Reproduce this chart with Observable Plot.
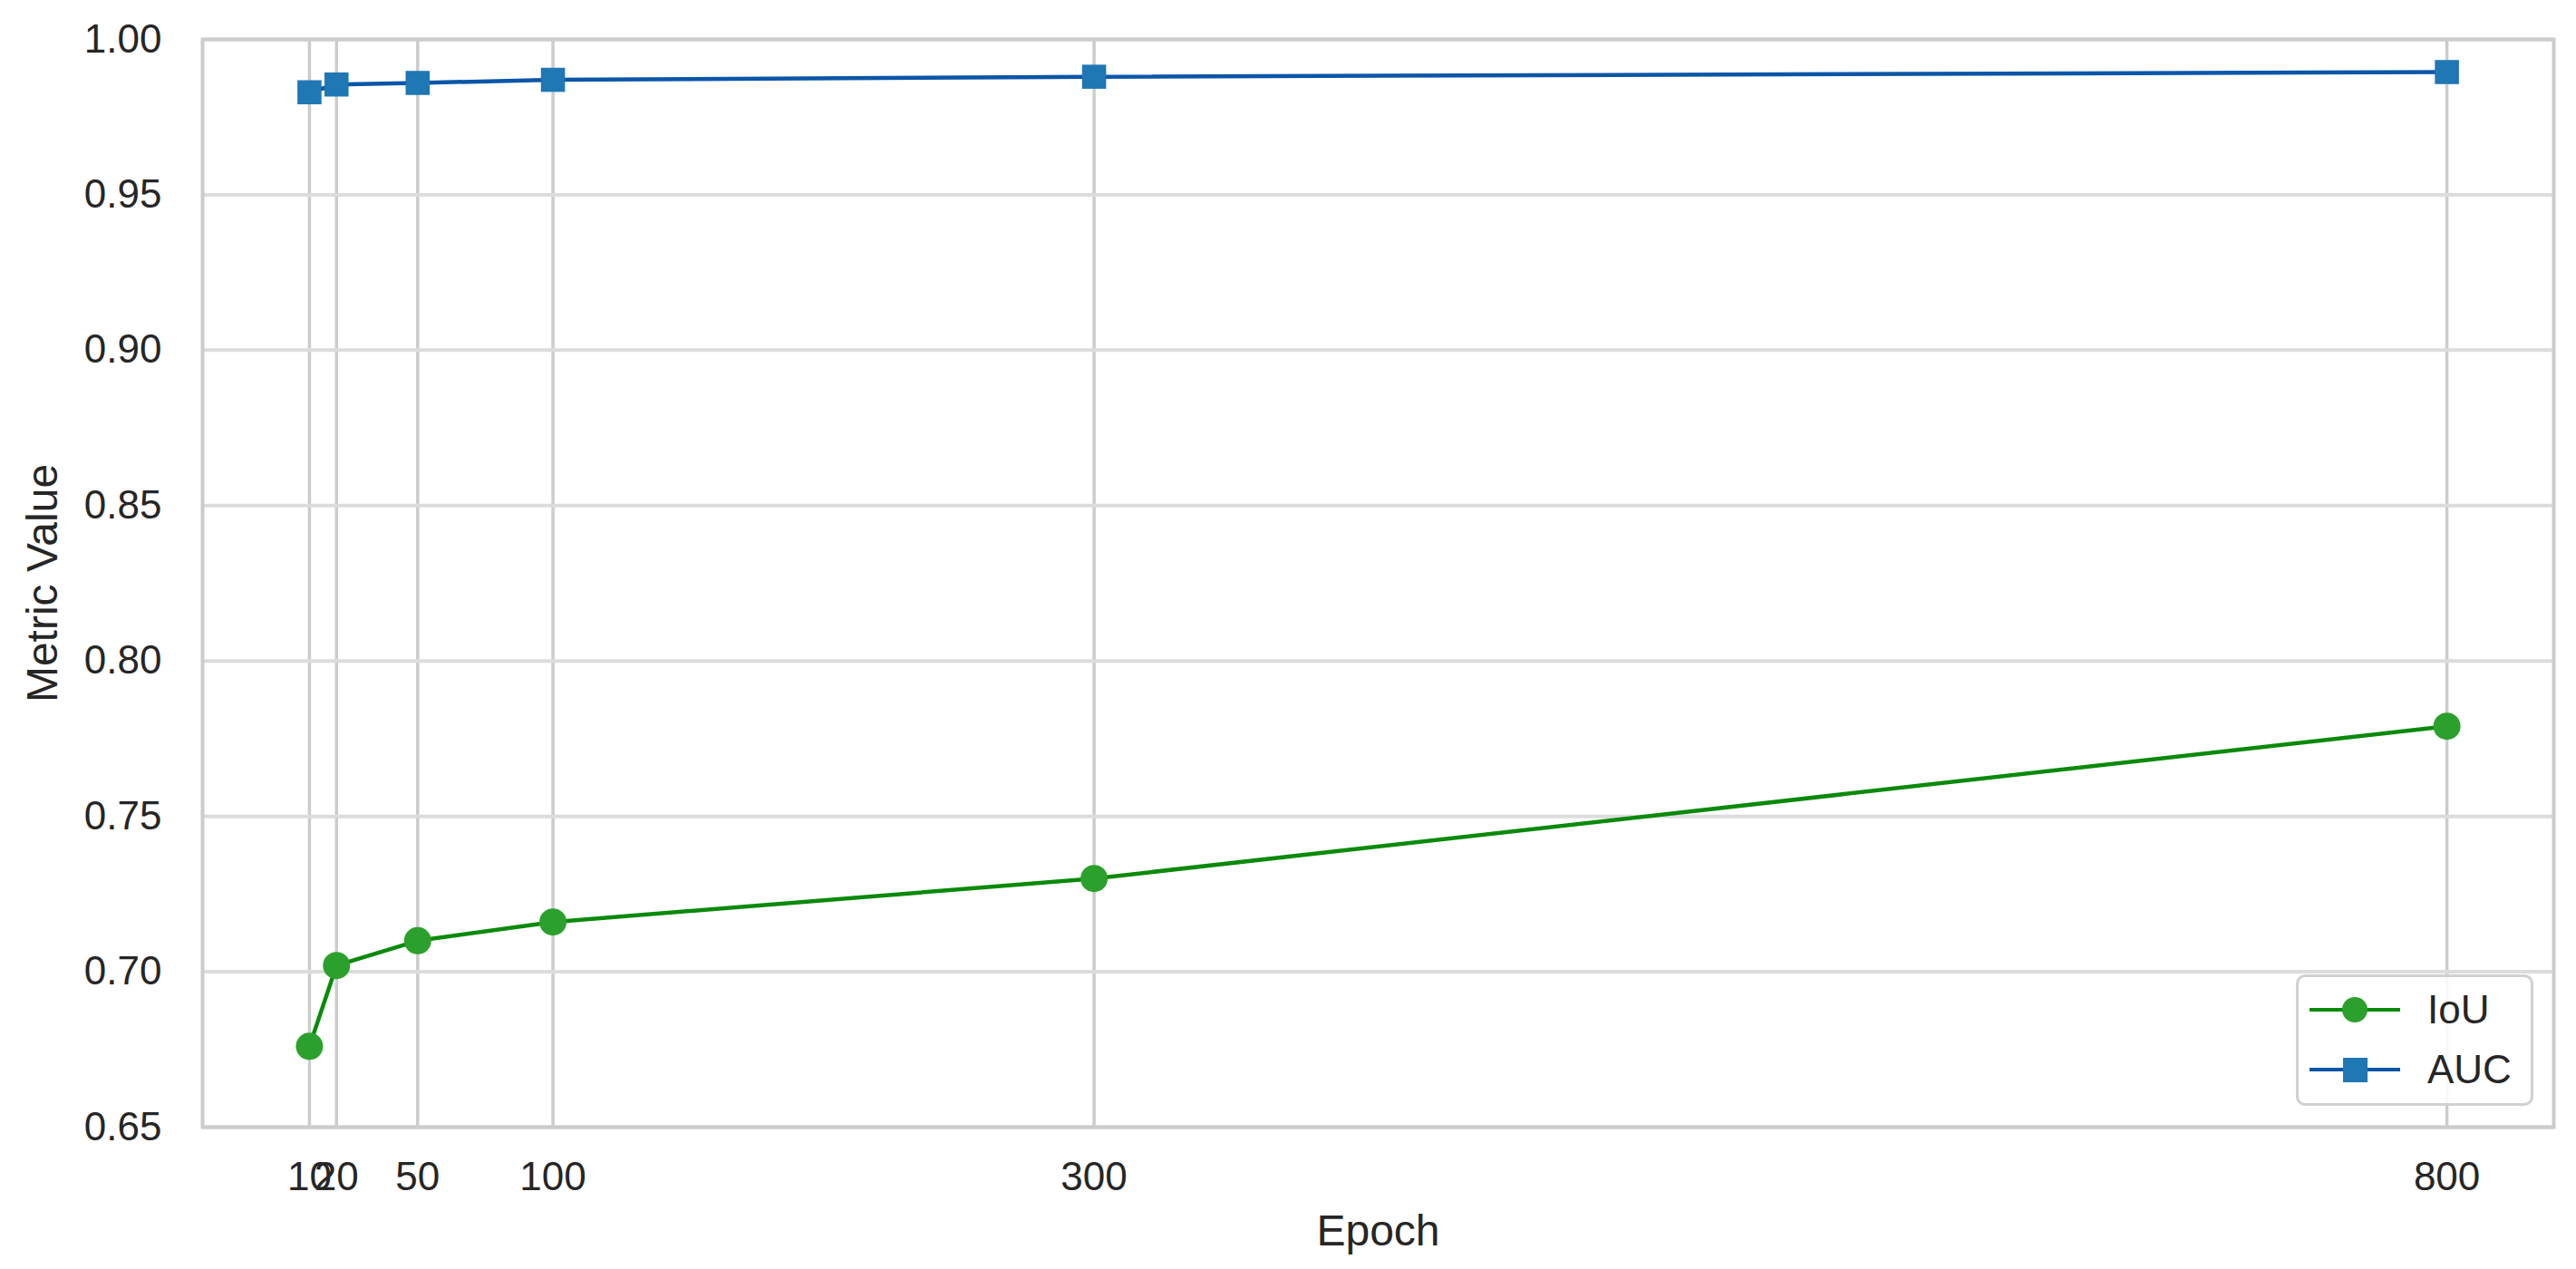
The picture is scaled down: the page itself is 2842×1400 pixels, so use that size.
<!DOCTYPE html>
<html>
<head>
<meta charset="utf-8">
<script src="https://cdn.jsdelivr.net/npm/d3@7"></script>
<script src="https://cdn.jsdelivr.net/npm/@observablehq/plot@0.6"></script>
<style>
  html, body { margin: 0; padding: 0; background: #fff; }
  #wrap { position: relative; width: 2842px; height: 1400px; }
  #legend {
    position: absolute; left: 2533px; top: 1075px; width: 262px; height: 145px;
    box-sizing: border-box; border: 3px solid #d0d0d0; border-radius: 10px; background: rgba(255,255,255,0.85);
    font-family: "Liberation Sans", Arial, sans-serif; font-size: 44px; color: #262626;
  }
  .row { position: absolute; left: 12px; height: 60px; display: flex; align-items: center; }
  .row svg { display: block; }
  .row span { margin-left: 30px; }
</style>
</head>
<body>
<div id="wrap"></div>
<script>
const epochs = [10, 20, 50, 100, 300, 800];
const iou = [0.676, 0.702, 0.710, 0.716, 0.730, 0.779];
const auc = [0.983, 0.9855, 0.986, 0.987, 0.988, 0.9895];
const seriesNames = ["IoU", "AUC"];
const yTicks = [0.65, 0.70, 0.75, 0.80, 0.85, 0.90, 0.95, 1.00];

const markerColors = {IoU: "#2ca02c", AUC: "#1f77b4"};
const lineColors = {IoU: "#0a8a0a", AUC: "#0b56a8"};
const symbols = {IoU: "circle", AUC: "square"};

const rows = [];
epochs.forEach((e, i) => {
  rows.push({epoch: e, value: iou[i], series: "IoU"});
  rows.push({epoch: e, value: auc[i], series: "AUC"});
});

const font = "Liberation Sans, Arial, sans-serif";

const chart = Plot.plot({
  width: 2842,
  height: 1400,
  marginLeft: 223,
  marginRight: 25,
  marginTop: 43,
  marginBottom: 157,
  style: {fontFamily: font, fontSize: "44px", color: "#262626", background: "#fff"},
  x: {domain: [-29.5, 839.5]},
  y: {domain: [0.65, 1.00]},
  marks: [
    Plot.gridX(epochs, {stroke: "#cccccc", strokeOpacity: 1, strokeWidth: 3.5}),
    Plot.gridY(yTicks, {stroke: "#dcdcdc", strokeOpacity: 1, strokeWidth: 4}),
    Plot.frame({stroke: "#cccccc", strokeWidth: 4}),
    Plot.axisX(epochs, {tickSize: 0, tickPadding: 38, fontSize: 44, label: "Epoch", labelAnchor: "center", labelArrow: "none", labelOffset: 130}),
    Plot.axisY(yTicks, {tickSize: 0, tickPadding: 45, fontSize: 44, tickFormat: d3.format(".2f"), label: "Metric Value", labelAnchor: "center", labelArrow: "none", labelOffset: 195}),
    ...seriesNames.map(s => Plot.line(rows.filter(d => d.series === s), {x: "epoch", y: "value", stroke: lineColors[s], strokeWidth: 4.5})),
    ...seriesNames.map(s => Plot.dot(rows.filter(d => d.series === s), {x: "epoch", y: "value", fill: markerColors[s], symbol: symbols[s], r: 15, stroke: "none"}))
  ]
});
chart.querySelectorAll("[aria-label='x-axis label'] text, [aria-label='y-axis label'] text").forEach(t => t.setAttribute("font-size", "48"));
const wrap = document.getElementById("wrap");
wrap.appendChild(chart);

// legend
const legend = document.createElement("div");
legend.id = "legend";
seriesNames.forEach((s, i) => {
  const row = document.createElement("div");
  row.className = "row";
  row.style.top = (6 + i * 66) + "px";
  const sym = s === "IoU"
    ? `<circle cx="50" cy="30" r="14" fill="${markerColors[s]}"/>`
    : `<rect x="37" y="17" width="27" height="27" fill="${markerColors[s]}"/>`;
  row.innerHTML = `<svg width="100" height="60"><line x1="0" x2="100" y1="30" y2="30" stroke="${lineColors[s]}" stroke-width="4"/>${sym}</svg><span>${s}</span>`;
  legend.appendChild(row);
});
wrap.appendChild(legend);
</script>
</body>
</html>
